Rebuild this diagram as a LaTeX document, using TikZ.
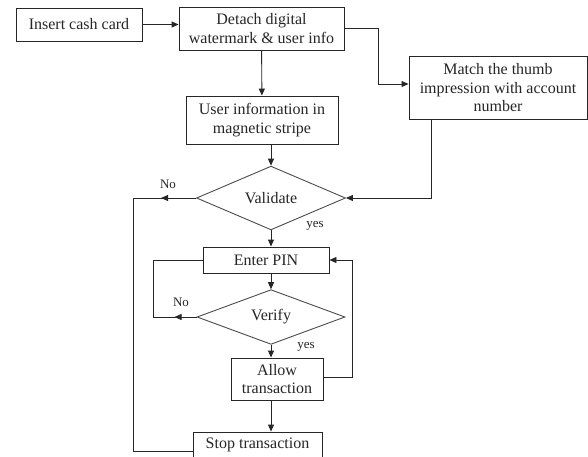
\documentclass[tikz,border=0pt]{standalone}
\usepackage{fontspec}
\setmainfont{Liberation Serif}
\usetikzlibrary{shapes.geometric,arrows.meta}
\begin{document}
\begin{tikzpicture}[x=1pt,y=-1pt,
  box/.style={draw=black!85,line width=0.9pt,inner sep=0pt,align=center,font=\fontsize{16}{18.5}\selectfont,text=black!85},
  dia/.style={draw=black!70,line width=0.9pt,diamond,inner sep=0pt,font=\fontsize{16}{18.5}\selectfont,text=black!85},
  con/.style={draw=black!85,line width=0.9pt},
  arr/.style={con,-{Triangle[length=7pt,width=6pt]}},
  lbl/.style={font=\fontsize{13}{15}\selectfont,text=black!85}]
\useasboundingbox (0,0) rectangle (588,456);
\fill[white] (0,0) rectangle (588,456);
\node[box,minimum width=126pt,minimum height=33pt] (insert) at (79,24.5) {Insert cash card};
\node[box,minimum width=165pt,minimum height=43pt] (detach) at (261.5,28.5) {Detach digital\\watermark \& user info};
\node[box,minimum width=152pt,minimum height=48pt] (user) at (262,120) {User information in\\magnetic stripe};
\node[box,minimum width=178pt,minimum height=63pt] (match) at (498,88) {Match the thumb\\impression with account\\number};
\node[dia,minimum width=149pt,minimum height=45pt] (validate) at (271,198) {Validate};
\node[box,minimum width=126pt,minimum height=26pt] (pin) at (266,260) {Enter PIN};
\node[dia,minimum width=148pt,minimum height=40pt] (verify) at (271,317) {Verify};
\node[box,minimum width=92pt,minimum height=42pt] (allow) at (277,379) {Allow\\transaction};
\node[box,minimum width=129pt,minimum height=26pt] (stop) at (257.5,445) {Stop transaction};
\draw[arr] (insert.east) -- (insert.east -| detach.west);
\draw[arr] (detach) -- (user);
\draw[arr] (detach.east) -- (378,28.5) |- ([yshift=4pt]match.west);
\draw[arr] ([xshift=-67pt]match.south) |- (validate.east);
\draw[arr] (validate.north |- user.south) -- (validate.north);
\draw[arr] (validate.west) -- +(-35,0);
\draw[con] (validate.west) -- (133,198) |- ([yshift=-6pt]stop.west);
\node[lbl] at (168,184) {No};
\node[lbl] at (315,226) {yes};
\draw[arr] (validate.south) -- (validate.south |- pin.north);
\draw[arr] (verify.north |- pin.south) -- (verify.north);
\draw[arr] (verify.west) -- +(-22,0);
\draw[con] (verify.west) -- (153,317) |- (pin.west);
\node[lbl] at (181,302) {No};
\draw[arr] (verify.south) -- (verify.south |- allow.north);
\node[lbl] at (306,347) {yes};
\draw[arr] ([yshift=2pt]allow.east) -- (352,377) |- (pin.east);
\draw[arr] (verify.south |- allow.south) -- (verify.south |- stop.north);
\end{tikzpicture}
\end{document}
